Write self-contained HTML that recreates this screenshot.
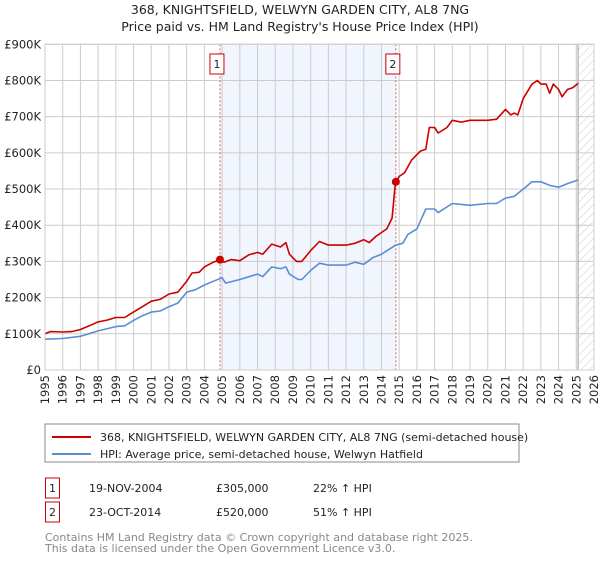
<!DOCTYPE html>
<html><head><meta charset="utf-8">
<style>
body{margin:0;background:#fff;font-family:"Liberation Sans","DejaVu Sans",sans-serif;}
svg text{font-family:"DejaVu Sans","Liberation Sans",sans-serif;}
</style></head>
<body>
<svg id="chart" width="600" height="560" xmlns="http://www.w3.org/2000/svg">
<defs>
<pattern id="hatch" width="6" height="6" patternUnits="userSpaceOnUse" patternTransform="rotate(45)">
<line x1="0" y1="0" x2="0" y2="6" stroke="#ccc" stroke-width="1"/>
</pattern>
</defs>
<text x="300" y="14" text-anchor="middle" font-size="12.5" fill="#222">368, KNIGHTSFIELD, WELWYN GARDEN CITY, AL8 7NG</text>
<text x="300" y="31" text-anchor="middle" font-size="12.5" fill="#222">Price paid vs. HM Land Registry's House Price Index (HPI)</text>
<g id="plot"></g>
<rect x="45" y="424" width="474" height="38" fill="#fff" stroke="#888"/>
<line x1="52" y1="437" x2="91" y2="437" stroke="#cc0000" stroke-width="2"/>
<text x="100" y="441" font-size="11" fill="#222">368, KNIGHTSFIELD, WELWYN GARDEN CITY, AL8 7NG (semi-detached house)</text>
<line x1="52" y1="454" x2="91" y2="454" stroke="#5b8dd6" stroke-width="2"/>
<text x="100" y="458" font-size="11" fill="#222">HPI: Average price, semi-detached house, Welwyn Hatfield</text>
<g>
<rect x="45.5" y="478" width="14" height="20" fill="#fff" stroke="#cc0000"/>
<text x="52.5" y="492" text-anchor="middle" font-size="11" fill="#222">1</text>
<text x="89" y="492" font-size="11" fill="#222">19-NOV-2004</text>
<text x="216" y="492" font-size="11" fill="#222">£305,000</text>
<text x="313" y="492" font-size="11" fill="#222">22% ↑ HPI</text>
</g>
<g>
<rect x="45.5" y="502" width="14" height="20" fill="#fff" stroke="#cc0000"/>
<text x="52.5" y="516" text-anchor="middle" font-size="11" fill="#222">2</text>
<text x="89" y="516" font-size="11" fill="#222">23-OCT-2014</text>
<text x="216" y="516" font-size="11" fill="#222">£520,000</text>
<text x="313" y="516" font-size="11" fill="#222">51% ↑ HPI</text>
</g>
<text x="45" y="541" font-size="11" fill="#888">Contains HM Land Registry data © Crown copyright and database right 2025.</text>
<text x="45" y="552" font-size="11" fill="#888">This data is licensed under the Open Government Licence v3.0.</text>
</svg>
<script>
const yTicks=[0,100000,200000,300000,400000,500000,600000,700000,800000,900000];
const yTickLabels=["£0","£100K","£200K","£300K","£400K","£500K","£600K","£700K","£800K","£900K"];
const xTicks=[1995,1996,1997,1998,1999,2000,2001,2002,2003,2004,2005,2006,2007,2008,2009,2010,2011,2012,2013,2014,2015,2016,2017,2018,2019,2020,2021,2022,2023,2024,2025,2026];
const saleDates=[2004.88,2014.81];
const salePrices=[305000,520000];
const propT=[1995,1995.3,1996,1996.5,1997,1997.5,1998,1998.5,1999,1999.5,2000,2000.5,2001,2001.5,2002,2002.5,2003,2003.3,2003.7,2004,2004.5,2004.88,2005.1,2005.5,2006,2006.5,2007,2007.3,2007.8,2008.3,2008.6,2008.8,2009.2,2009.5,2010,2010.5,2011,2011.5,2012,2012.5,2013,2013.3,2013.7,2014.3,2014.6,2014.75,2014.81,2015,2015.3,2015.7,2016.2,2016.5,2016.7,2017,2017.2,2017.7,2018,2018.5,2019,2019.5,2020,2020.5,2021,2021.3,2021.5,2021.7,2022,2022.5,2022.8,2023,2023.3,2023.5,2023.7,2024,2024.2,2024.5,2024.8,2025.1];
const propV=[100,106,105,106,112,122,133,138,145,145,160,175,190,195,210,215,245,268,270,285,298,305,298,305,302,318,325,320,348,340,352,320,300,300,330,355,345,345,345,350,360,352,370,390,420,500,520,535,545,580,605,610,670,670,655,670,690,685,690,690,690,693,720,705,710,705,750,790,800,790,790,765,790,775,755,775,780,792];
const hpiT=[1995,1996,1997,1998,1999,1999.5,2000,2000.5,2001,2001.5,2002,2002.5,2003,2003.5,2004,2004.5,2005,2005.2,2006,2007,2007.3,2007.8,2008.3,2008.6,2008.8,2009.3,2009.5,2010,2010.5,2011,2012,2012.5,2013,2013.5,2014,2014.8,2015.2,2015.5,2016,2016.5,2017,2017.2,2018,2019,2020,2020.5,2021,2021.5,2022,2022.5,2023,2023.5,2024,2024.5,2025.1];
const hpiV=[85,87,93,108,120,122,137,150,160,163,175,185,215,222,235,245,255,240,250,265,258,285,280,285,265,250,250,275,295,290,290,298,292,310,320,345,350,375,390,445,445,435,460,455,460,460,475,480,500,520,520,510,505,515,525];

const X0=45,X1=594,Y0=370,Y1=44.3;
const xs=t=>X0+(t-1995)/(2026-1995)*(X1-X0);
const ys=v=>Y0-v/900000*(Y0-Y1);
const NS="http://www.w3.org/2000/svg";
const g=document.getElementById('plot');
function mk(tag,attrs){const e=document.createElementNS(NS,tag);for(const k in attrs)e.setAttribute(k,attrs[k]);g.appendChild(e);return e;}
let sh=mk('rect',{x:xs(saleDates[0]),y:Y1,width:xs(saleDates[1])-xs(saleDates[0]),height:Y0-Y1,fill:'#eef2fc',opacity:0.8});


let ht=mk('rect',{x:xs(2025.1),y:Y1,width:X1-xs(2025.1),height:Y0-Y1,fill:'url(#hatch)'});


yTicks.forEach((v,i)=>{
 let l=mk('line',{x1:X0,x2:X1,y1:ys(v),y2:ys(v),stroke:'#ccc','stroke-width':1});
 
 
 let t=mk('text',{x:X0-4,y:ys(v)+4,'text-anchor':'end','font-size':11.5,fill:'#222'});
 t.textContent=yTickLabels[i];
 
 
});
xTicks.forEach(yr=>{
 let l=mk('line',{x1:xs(yr),x2:xs(yr),y1:Y1,y2:Y0,stroke:'#ccc','stroke-width':1});
 
 
 let t=mk('text',{x:0,y:0,'text-anchor':'end','font-size':11.5,fill:'#222',transform:`translate(${xs(yr)+4},${Y0+5}) rotate(-90)`});
 t.textContent=yr;
 
 
});
let vl=mk('line',{x1:xs(2025.1),x2:xs(2025.1),y1:Y1,y2:Y0,stroke:'#999','stroke-width':1});


saleDates.forEach((d,i)=>{
 let l=mk('line',{x1:xs(d),x2:xs(d),y1:Y1,y2:Y0,stroke:'#e06666','stroke-width':1,'stroke-dasharray':'2,2'});
 
 
});
function path(T,V,col,name){
 let d=T.map((t,i)=>(i?'L':'M')+xs(t).toFixed(1)+','+ys(V[i]*1000).toFixed(1)).join('');
 let p=mk('path',{d:d,fill:'none',stroke:col,'stroke-width':1.6,'stroke-linejoin':'round'});
 
 
}
path(hpiT,hpiV,'#5b8dd6','hpi-line');
path(propT,propV,'#cc0000','property-price-line');
saleDates.forEach((d,i)=>{
 let c=mk('circle',{cx:xs(d),cy:ys(salePrices[i]),r:4,fill:'#cc0000'});
 
 
 let r=mk('rect',{x:xs(d)-10,y:54,width:14,height:20,fill:'#fff',stroke:'#cc0000'});
 
 
 let t=mk('text',{x:xs(d)-3,y:68,'text-anchor':'middle','font-size':11,fill:'#222'});
 t.textContent=String(i+1);
 
 
});
let fr=mk('rect',{x:X0,y:Y1,width:X1-X0,height:Y0-Y1,fill:'none',stroke:'#ccc'});


</script>
</body></html>
